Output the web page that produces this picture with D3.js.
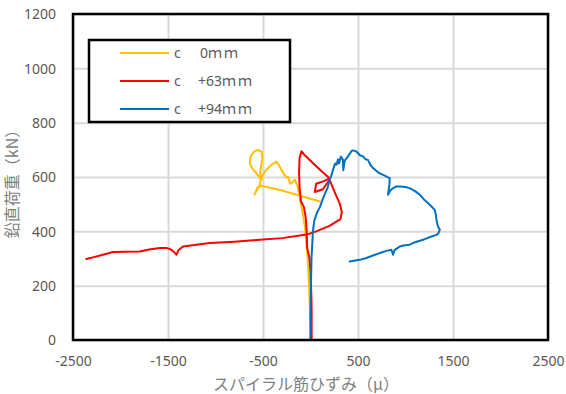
<!DOCTYPE html>
<html>
<head>
<meta charset="utf-8">
<script src="https://cdn.jsdelivr.net/npm/d3@7"></script>
<style>
  html, body { margin: 0; padding: 0; background: #fff; }
  svg { display: block; }
</style>
</head>
<body>
<svg id="chart" width="566" height="394"></svg>
<script>
// Spiral reinforcement strain (μ) vs. vertical load (kN), three gauge positions
const seriesLabels = ["c", "c", "c"];
const seriesOffsets = ["0", "+63", "+94"];
const seriesUnit = "ｍｍ";
const seriesColors = ["#FFC000", "#FF0000", "#0070C0"];

const xTicks = [-2500, -1500, -500, 500, 1500, 2500];
const yTicks = [0, 200, 400, 600, 800, 1000, 1200];

// c 0mm : [strain, load]
const series0 = [
  [0,0],[-5,100],[-15,200],[-30,300],[-45,360],[-60,420],[-85,470],[-105,510],[-125,545],
  [-135,565],[-165,590],[-190,580],[-215,575],[-235,600],[-255,600],[-280,610],[-306,627],
  [-335,645],[-359,657],[-410,645],[-464,627],[-500,610],[-517,590],[-560,610],[-610,630],
  [-640,650],[-630,675],[-605,690],[-560,700],[-517,694],[-505,670],[-520,640],[-530,615],
  [-520,595],[-535,570],[-560,555],[-590,535],[-560,560],[-520,568],[-300,550],[-100,530],[97,510]
];

// c +63mm
const series63 = [
  [12,0],[12,100],[10,150],[0,250],[-10,300],[-35,340],[-40,400],[-50,450],[-70,490],
  [-100,510],[-115,560],[-120,620],[-115,670],[-95,695],[-60,680],[30,650],[120,620],
  [200,595],[140,585],[60,575],[45,545],[130,555],[200,590],[260,540],[310,500],[330,470],
  [315,445],[200,420],[60,400],[-40,388],[-300,375],[-535,369],[-800,362],[-1061,357],
  [-1343,344],[-1390,330],[-1412,314],[-1440,325],[-1465,332],[-1517,339],[-1588,339],
  [-1700,333],[-1798,326],[-1950,325],[-2080,324],[-2185,314],[-2280,305],[-2360,298]
];

// c +94mm
const series94 = [
  [0,0],[0,100],[5,200],[10,300],[20,360],[25,400],[40,440],[70,470],[100,490],[130,520],
  [160,545],[180,560],[200,590],[220,605],[240,630],[260,650],[273,645],[290,665],[300,650],
  [320,675],[342,663],[345,625],[360,660],[395,676],[430,695],[448,698],[483,694],[520,680],
  [553,676],[580,665],[605,663],[630,645],[658,633],[720,615],[780,605],[834,596],[830,570],
  [816,535],[840,550],[869,559],[900,565],[939,565],[1000,563],[1044,559],[1100,548],
  [1150,535],[1200,515],[1255,498],[1308,479],[1320,460],[1326,443],[1340,420],[1361,406],
  [1345,392],[1326,387],[1250,378],[1185,369],[1100,360],[1044,351],[980,348],[939,344],
  [887,332],[869,314],[852,332],[800,328],[729,320],[650,310],[588,302],[518,295],[413,289]
];

const allSeries = [series0, series63, series94];

const svg = d3.select("#chart");
const plot = { left: 73, right: 548, top: 14, bottom: 340 };

const x = d3.scaleLinear().domain([-2500, 2500]).range([plot.left, plot.right]);
const y = d3.scaleLinear().domain([0, 1200]).range([plot.bottom, plot.top]);

const gridColor = "#d9d9d9";
const textColor = "#595959";
const numFont = "'Noto Sans', 'DejaVu Sans', sans-serif";
const jpFont = "'Noto Sans CJK JP', sans-serif";
const plainNum = d => String(d);

// Gridlines
const gx = svg.append("g")
  .attr("transform", `translate(0,${plot.bottom})`)
  .call(d3.axisBottom(x).tickValues(xTicks).tickSize(-(plot.bottom - plot.top)).tickFormat(""));
gx.select(".domain").remove();
gx.selectAll("line").attr("stroke", gridColor).attr("stroke-width", 2);

const gy = svg.append("g")
  .attr("transform", `translate(${plot.left},0)`)
  .call(d3.axisLeft(y).tickValues(yTicks).tickSize(-(plot.right - plot.left)).tickFormat(""));
gy.select(".domain").remove();
gy.selectAll("line").attr("stroke", gridColor).attr("stroke-width", 2);

// Tick labels
const xl = svg.append("g")
  .attr("transform", `translate(0,${plot.bottom})`)
  .call(d3.axisBottom(x).tickValues(xTicks).tickSize(0).tickPadding(0).tickFormat(plainNum));
xl.select(".domain").remove();
xl.selectAll("text")
  .attr("y", 26).attr("dy", null)
  .attr("fill", textColor).style("font-family", numFont).style("font-size", "14px");

const yl = svg.append("g")
  .attr("transform", `translate(${plot.left},0)`)
  .call(d3.axisLeft(y).tickValues(yTicks).tickSize(0).tickPadding(0).tickFormat(plainNum));
yl.select(".domain").remove();
yl.selectAll("text")
  .attr("x", -17).attr("dy", "0.35em")
  .attr("fill", textColor).style("font-family", numFont).style("font-size", "14px");

// Series lines
const line = d3.line().x(d => x(d[0])).y(d => y(d[1]));
allSeries.forEach((s, i) => {
  svg.append("path")
    .datum(s)
    .attr("d", line)
    .attr("fill", "none")
    .attr("stroke", seriesColors[i])
    .attr("stroke-width", 2)
    .attr("stroke-linejoin", "round")
    .attr("stroke-linecap", "round");
});

// Plot frame
svg.append("rect")
  .attr("x", plot.left).attr("y", plot.top)
  .attr("width", plot.right - plot.left).attr("height", plot.bottom - plot.top)
  .attr("fill", "none").attr("stroke", "#000").attr("stroke-width", 2.5);

// Axis titles
svg.append("text")
  .attr("x", 306).attr("y", 390)
  .attr("text-anchor", "middle")
  .attr("fill", "#7f7f7f")
  .style("font-family", jpFont).style("font-size", "16px")
  .text("スパイラル筋ひずみ（μ）");

svg.append("text")
  .attr("transform", "translate(18,180) rotate(-90)")
  .attr("text-anchor", "middle")
  .attr("fill", "#7f7f7f")
  .style("font-family", jpFont).style("font-size", "16px")
  .text("鉛直荷重（kN）");

// Legend
const legend = svg.append("g");
legend.append("rect")
  .attr("x", 89).attr("y", 40).attr("width", 201).attr("height", 82)
  .attr("fill", "#fff").attr("stroke", "#000").attr("stroke-width", 2.5);

const rowY = [53, 81, 109];
seriesLabels.forEach((lab, i) => {
  legend.append("line")
    .attr("x1", 120).attr("x2", 169)
    .attr("y1", rowY[i]).attr("y2", rowY[i])
    .attr("stroke", seriesColors[i]).attr("stroke-width", 2);
  legend.append("text")
    .attr("x", 174).attr("y", rowY[i]).attr("dy", "0.35em")
    .attr("fill", textColor)
    .style("font-family", numFont).style("font-size", "14px")
    .text(lab);
  const t = legend.append("text")
    .attr("x", i === 0 ? 200 : 198).attr("y", rowY[i]).attr("dy", "0.35em")
    .attr("fill", textColor)
    .style("font-family", numFont).style("font-size", "14px");
  t.append("tspan").text(seriesOffsets[i]);
  t.append("tspan")
    .style("font-family", jpFont)
    .style("letter-spacing", "2px")
    .text(seriesUnit);
});
</script>
</body>
</html>
